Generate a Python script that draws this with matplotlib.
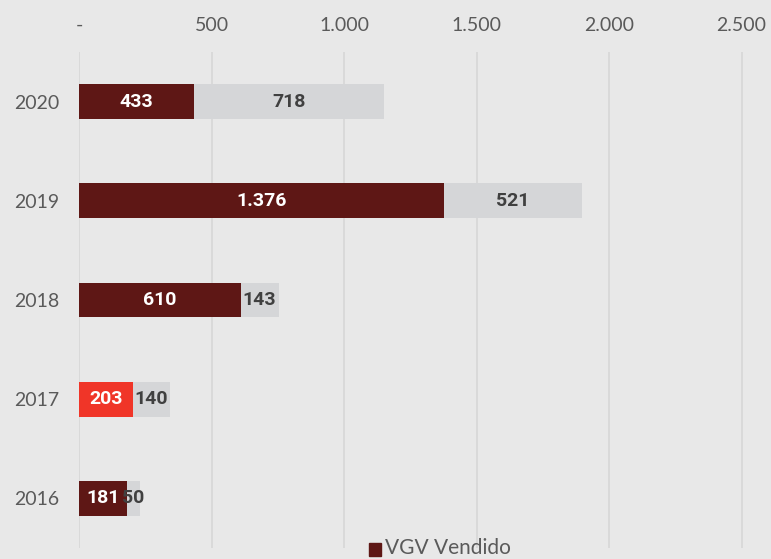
import matplotlib
matplotlib.use("Agg")
import matplotlib.pyplot as plt
from matplotlib.patches import Rectangle

years = ["2016", "2017", "2018", "2019", "2020"]
vgv_vendido = [181, 203, 610, 1376, 433]
vgv_estoque = [50, 140, 143, 521, 718]
tick_values = [0, 500, 1000, 1500, 2000, 2500]
tick_labels = ["-", "500", "1.000", "1.500", "2.000", "2.500"]

BG = "#e8e8e8"
DARK_RED = "#5e1715"
RED = "#f03528"
GRAY_BAR = "#d5d6d8"
TEXT_GRAY = "#5a5a5a"
FONT = "Lato"


def fmt(v):
    return f"{v:,}".replace(",", ".")


fig = plt.figure(figsize=(7.71, 5.59), dpi=100, facecolor=BG)
ax = fig.add_axes([79 / 771, 11 / 559, 692 / 771, 496 / 559])
ax.set_facecolor(BG)

y = list(range(len(years)))
colors = [RED if yr == "2017" else DARK_RED for yr in years]
ax.barh(y, vgv_vendido, height=0.35, color=colors, zorder=3)
ax.barh(y, vgv_estoque, left=vgv_vendido, height=0.35, color=GRAY_BAR, zorder=3)

for i, (a, b) in enumerate(zip(vgv_vendido, vgv_estoque)):
    ax.text(a / 2, i, fmt(a), ha="center", va="center", color="white",
            fontsize=14, fontweight="bold", family="Roboto", zorder=4)
    ax.text(a + b / 2, i, fmt(b), ha="center", va="center", color="#404040",
            fontsize=14, fontweight="bold", family="Roboto", zorder=4)

ax.set_xlim(0, 2611)
ax.set_ylim(-0.5, 4.5)
ax.set_yticks(y)
ax.set_yticklabels(years, fontsize=14, color=TEXT_GRAY, family=FONT)
ax.xaxis.tick_top()
ax.set_xticks(tick_values)
ax.set_xticklabels(tick_labels, fontsize=14, color=TEXT_GRAY, family=FONT)
ax.tick_params(length=0)
ax.tick_params(axis="x", pad=13)
ax.tick_params(axis="y", pad=14)
ax.grid(axis="x", color="#d6d6d6", linewidth=1.2, zorder=0)
for s in ax.spines.values():
    s.set_visible(False)

# legend at the bottom edge
fig.patches.append(Rectangle((369 / 771, 3 / 559), 12 / 771, 13 / 559,
                             transform=fig.transFigure, color=DARK_RED))
fig.text(385 / 771, 5 / 559, "VGV Vendido", fontsize=15, color=TEXT_GRAY,
         family=FONT, va="baseline", ha="left")

fig.savefig("out.png", dpi=100, facecolor=BG)
